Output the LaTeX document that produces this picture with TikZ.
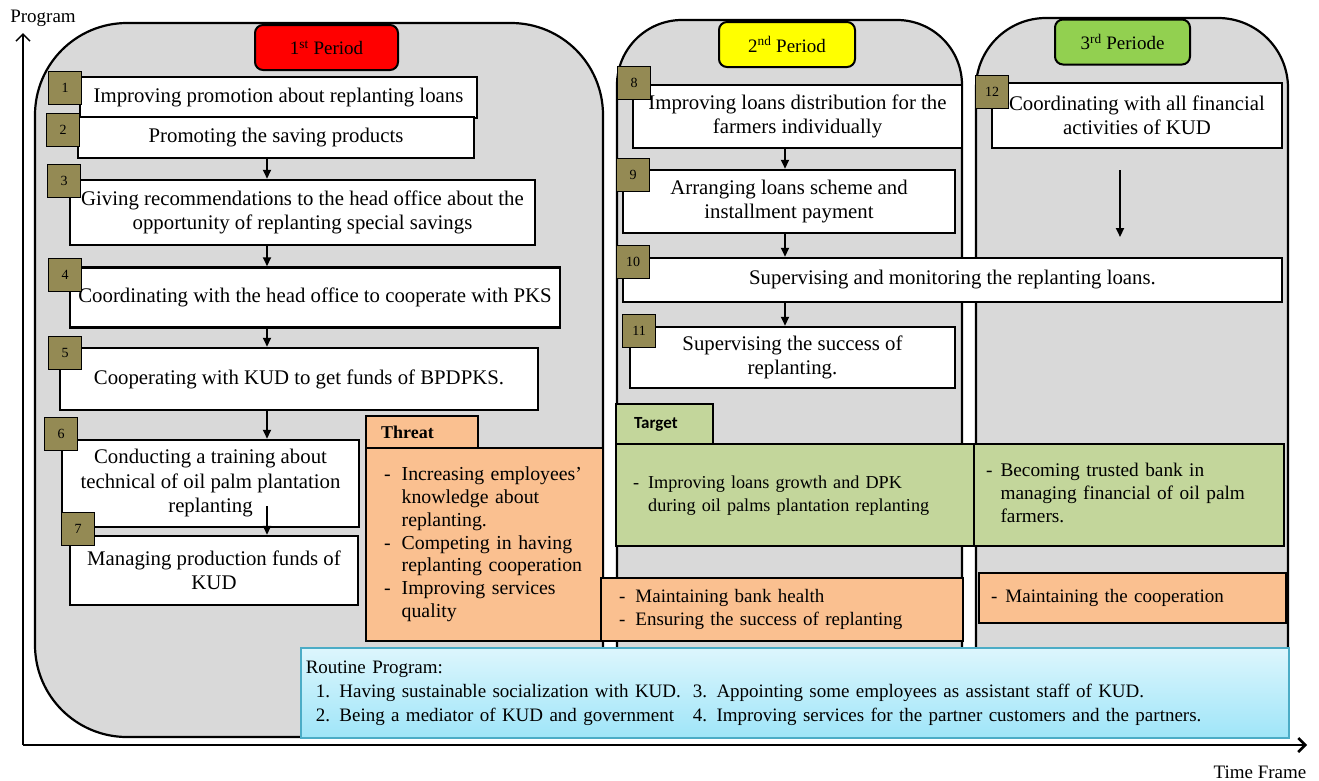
\documentclass[tikz,border=0pt]{standalone}
\usepackage{fontspec}
\setmainfont{Liberation Serif}
\newfontfamily\tabfont{Carlito}
\usetikzlibrary{arrows.meta,positioning,calc}
\definecolor{PanelGray}{HTML}{D9D9D9}
\definecolor{BadgeOlive}{HTML}{948A54}
\definecolor{PeriodRed}{HTML}{FF0000}
\definecolor{PeriodYellow}{HTML}{FFFF00}
\definecolor{PeriodGreen}{HTML}{92D050}
\definecolor{ThreatOrange}{HTML}{FAC090}
\definecolor{TargetGreen}{HTML}{C3D69B}
\definecolor{RoutineTop}{HTML}{DDF6FD}
\definecolor{RoutineBot}{HTML}{9FE5F8}
\definecolor{RoutineLine}{HTML}{4BACC6}

\begin{document}
\begin{tikzpicture}[x=1pt, y=-1pt,
    font=\fontsize{20.8}{24.5}\selectfont,
    panel/.style={draw=black, line width=2.2pt, fill=PanelGray},
    period/.style={rectangle, rounded corners=8pt, draw=black, line width=2pt, minimum height=45pt, font=\fontsize{19}{22}\selectfont},
    stepbox/.style={rectangle, draw=black, line width=2.5pt, fill=white, align=center, inner sep=3pt},
    badge/.style={rectangle, draw=black, line width=1.6pt, fill=BadgeOlive, minimum size=33pt, inner sep=0pt, font=\fontsize{14}{14}\selectfont},
    tabnode/.style={rectangle, draw=black, line width=2.2pt, anchor=north west, align=left, inner ysep=0pt},
    listbox/.style={rectangle, draw=black, line width=2.2pt, anchor=north west, align=left, inner ysep=0pt, font=\fontsize{19.8}{22.8}\selectfont},
    arrow/.style={-{Triangle[length=9pt,width=8pt]}, line width=2pt},
    axis/.style={-{Straight Barb[length=7pt,width=14pt]}, line width=1.5pt}
]
\useasboundingbox (0,0) rectangle (1319,780);

% axes
\coordinate (origin) at (23,745);
\coordinate (ytip) at (23,33);
\coordinate (xtip) at (1307,745);
\draw[axis] (origin) -- (ytip);
\draw[axis, line width=2.5pt] (origin) -- (xtip);
\node[font=\fontsize{19}{19}\selectfont] (ylabel) at (43,18) {Program};
\node[font=\fontsize{19}{19}\selectfont] (xlabel) at (1260,772) {Time Frame};

% period panels
\draw[panel, rounded corners=92pt] (35,23) rectangle (603,737);
\draw[panel, rounded corners=65pt] (617,20) rectangle (962,730);
\draw[panel, rounded corners=70pt] (976,18) rectangle (1288,730);

\node[period, fill=PeriodRed, minimum width=143pt] (per1) at (326.5,47.5) {1\textsuperscript{st} Period};
\node[period, fill=PeriodYellow, minimum width=136pt] (per2) at (787,44.5) {2\textsuperscript{nd} Period};
\node[period, fill=PeriodGreen, minimum width=135pt] (per3) at (1122.5,42) {3\textsuperscript{rd} Periode};

% 1st period steps
\node[stepbox, minimum width=397pt, minimum height=41pt] (s1) at (278.5,97.5) {Improving promotion about replanting loans};
\node[stepbox, minimum width=396pt, minimum height=41pt] (s2) at (276,137.5) {Promoting the saving products};
\node[stepbox, minimum width=465pt, minimum height=65pt] (s3) at (302.5,212.5) {Giving recommendations to the head office about the\\opportunity of replanting special savings};
\node[stepbox, minimum width=490pt, minimum height=60pt] (s4) at (315,297.5) {Coordinating with the head office to cooperate with PKS};
\node[stepbox, minimum width=478pt, minimum height=62pt] (s5) at (299,379) {Cooperating with KUD to get funds of BPDPKS.};
\node[stepbox, minimum width=297pt, minimum height=87pt] (s6) at (210.5,483.5) {Conducting a training about\\technical of oil palm plantation\\replanting};
\node[stepbox, minimum width=288pt, minimum height=69pt] (s7) at (214,570.5) {Managing production funds of\\KUD};

% 2nd and 3rd period steps
\node[stepbox, minimum width=329pt, minimum height=63pt] (s8) at (797.5,116.5) {Improving loans distribution for the\\farmers individually};
\node[stepbox, minimum width=332pt, minimum height=63pt] (s9) at (789,201.5) {Arranging loans scheme and\\installment payment};
\node[stepbox, minimum width=659pt, minimum height=44pt] (s10) at (952.5,280) {Supervising and monitoring the replanting loans.};
\node[stepbox, minimum width=325pt, minimum height=61pt] (s11) at (792.5,357.5) {Supervising the success of\\replanting.};
\node[stepbox, minimum width=290pt, minimum height=65pt] (s12) at (1137,115.5) {Coordinating with all financial\\activities of KUD};

% number badges
\node[badge] (b1) at (65,88) {1};
\node[badge] (b2) at (63,130) {2};
\node[badge] (b3) at (64,181) {3};
\node[badge] (b4) at (65,275) {4};
\node[badge] (b5) at (65,353) {5};
\node[badge] (b6) at (61,434) {6};
\node[badge] (b7) at (78,529) {7};
\node[badge] (b8) at (634,83) {8};
\node[badge] (b9) at (633,175) {9};
\node[badge] (b10) at (633,262) {10};
\node[badge] (b11) at (639,331) {11};
\node[badge] (b12) at (992,92) {12};

% flow arrows
\coordinate (colA) at (267,0);
\coordinate (colB) at (785,0);
\draw[arrow] (s2.south -| colA) -- (s3.north -| colA);
\draw[arrow] (s3.south -| colA) -- (s4.north -| colA);
\draw[arrow] (s4.south -| colA) -- (s5.north -| colA);
\draw[arrow] (s5.south -| colA) -- (s6.north -| colA);
\draw[arrow] ($(s6.south -| colA)+(0,-22)$) -- (s7.north -| colA);
\draw[arrow] (s8.south -| colB) -- (s9.north -| colB);
\draw[arrow] (s9.south -| colB) -- (s10.north -| colB);
\draw[arrow] (s10.south -| colB) -- (s11.north -| colB);
\coordinate (flowtop) at (1120,170);
\coordinate (flowend) at (1120,237);
\draw[arrow] (flowtop) -- (flowend);

% threat
\node[tabnode, fill=ThreatOrange, inner xsep=15pt, text width=82pt, minimum height=33pt, font=\bfseries\fontsize{18}{20}\selectfont] (threattab) at (365,415) {Threat};
\node[listbox, fill=ThreatOrange, inner xsep=18pt, text width=201pt, minimum height=193pt] (threat) at (365,447) {\begin{tabular}{@{}l@{\hspace{11pt}}l@{}}
-&Increasing employees'\\ &knowledge about\\ &replanting.\\
-&Competing in having\\ &replanting cooperation\\
-&Improving services\\ &quality\end{tabular}};

% target
\node[tabnode, fill=TargetGreen, inner xsep=18pt, text width=61pt, minimum height=40pt, font=\tabfont\bfseries\fontsize{17}{20}\selectfont] (targettab) at (615,403) {Target};
\node[listbox, fill=TargetGreen, inner xsep=17pt, text width=324pt, minimum height=102pt, font=\fontsize{18.2}{23}\selectfont] (target2) at (615,443) {\begin{tabular}{@{}l@{\hspace{9pt}}l@{}}
-&Improving loans growth and DPK\\ &during oil palms plantation replanting\end{tabular}};
\node[listbox, fill=TargetGreen, inner xsep=12pt, text width=286pt, minimum height=102pt, font=\fontsize{19.3}{23}\selectfont] (target3) at (973,443) {\begin{tabular}{@{}l@{\hspace{8pt}}l@{}}
-&Becoming trusted bank in\\ &managing financial of oil palm\\ &farmers.\end{tabular}};

% orange notes
\node[listbox, fill=ThreatOrange, inner xsep=18pt, text width=326pt, minimum height=63pt, font=\fontsize{19}{22.5}\selectfont] (note2) at (600,577) {\begin{tabular}{@{}l@{\hspace{10pt}}l@{}}
-&Maintaining bank health\\ -&Ensuring the success of replanting\end{tabular}};
\node[listbox, fill=ThreatOrange, inner xsep=12pt, text width=283pt, minimum height=50pt, font=\fontsize{19}{22.5}\selectfont] (note3) at (978,572) {\begin{tabular}{@{}l@{\hspace{8pt}}l@{}}
-&Maintaining the cooperation\end{tabular}};

% routine program
\node[rectangle, draw=RoutineLine, line width=1.5pt, top color=RoutineTop, bottom color=RoutineBot, anchor=north west, inner xsep=5pt, inner ysep=0pt, text width=978pt, minimum height=90pt, align=left, font=\fontsize{19}{24}\selectfont] (routine) at (300,647) {\begin{tabular}{@{}p{387pt}@{}l@{}}
Routine Program:&\\
\hspace*{10pt}1. Having sustainable socialization with KUD.&3. Appointing some employees as assistant staff of KUD.\\
\hspace*{10pt}2. Being a mediator of KUD and government&4. Improving services for the partner customers and the partners.\end{tabular}};
\end{tikzpicture}
\end{document}
